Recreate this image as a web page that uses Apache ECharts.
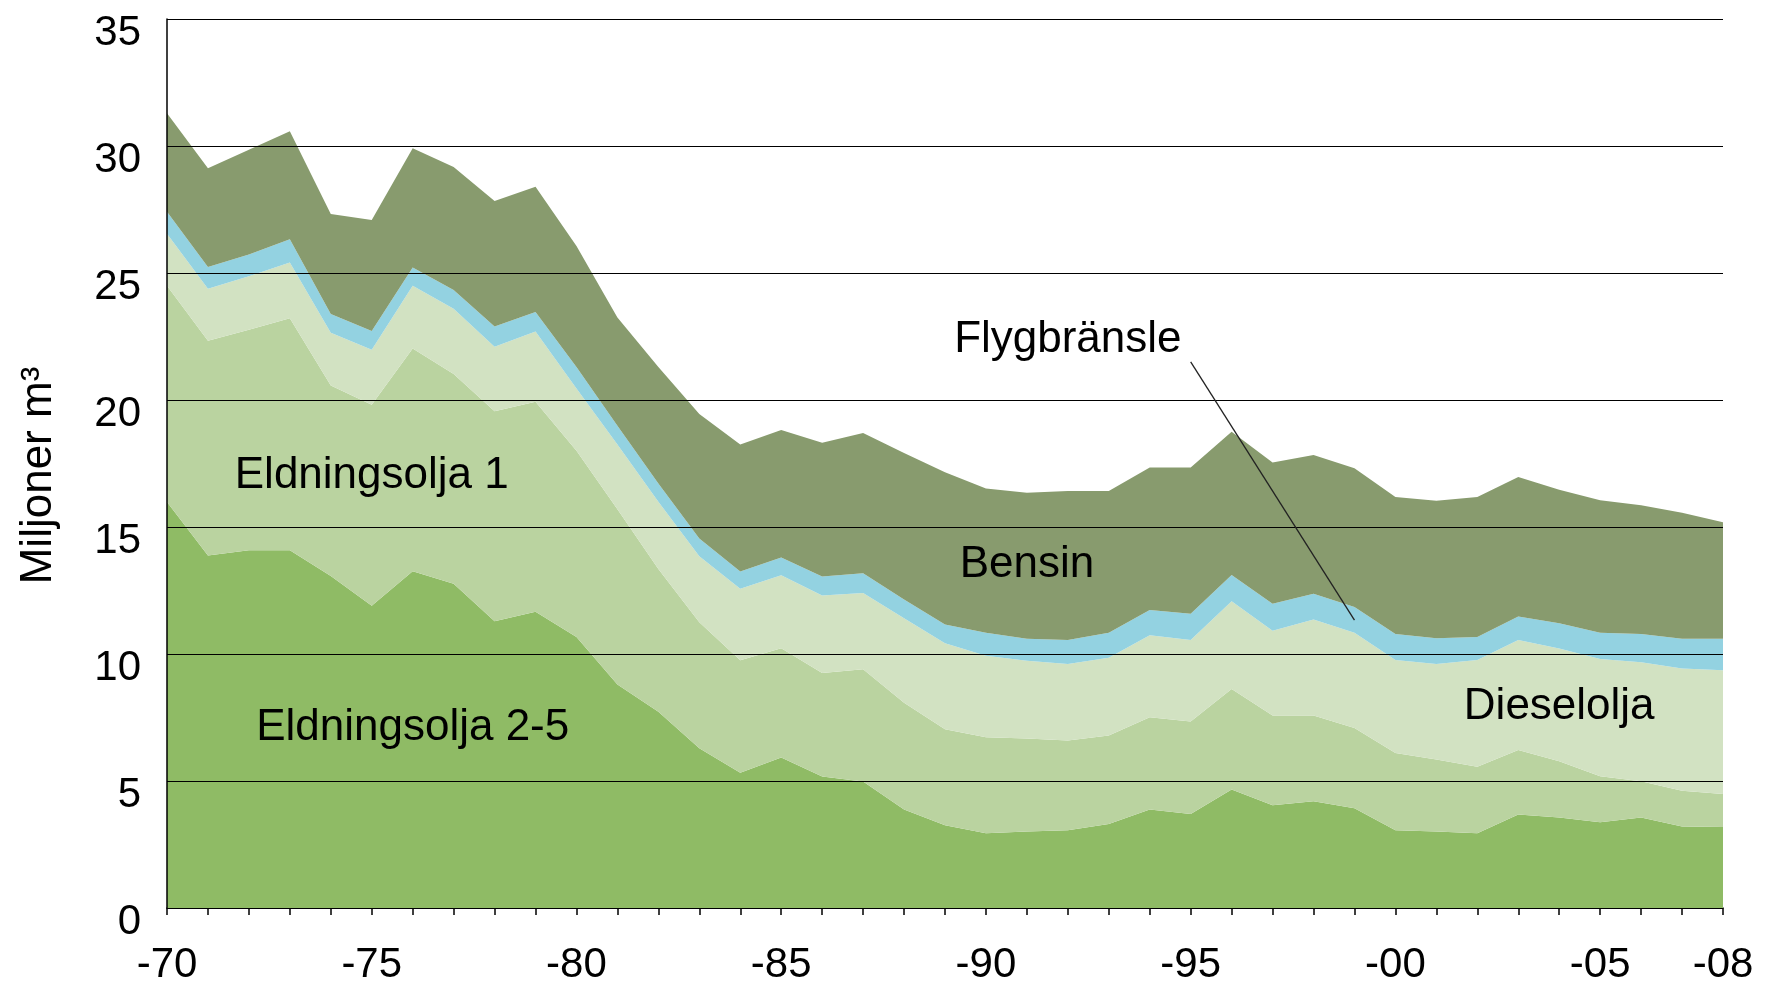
<!DOCTYPE html>
<html>
<head>
<meta charset="utf-8">
<script src="https://cdn.jsdelivr.net/npm/echarts@6/dist/echarts.min.js"></script>
<style>
html, body { margin: 0; padding: 0; background: #fff; }
#main { width: 1766px; height: 984px; }
</style>
</head>
<body>
<div id="main"></div>
<script>
// Miljoner m3 per år, 1970-2008
var years = [1970, 1971, 1972, 1973, 1974, 1975, 1976, 1977, 1978, 1979,
             1980, 1981, 1982, 1983, 1984, 1985, 1986, 1987, 1988, 1989,
             1990, 1991, 1992, 1993, 1994, 1995, 1996, 1997, 1998, 1999,
             2000, 2001, 2002, 2003, 2004, 2005, 2006, 2007, 2008];

var eldningsolja25 = [15.98, 13.88, 14.08, 14.08, 13.07, 11.90, 13.26, 12.77, 11.29, 11.66,
                      10.67, 8.80, 7.73, 6.29, 5.32, 5.93, 5.18, 4.98, 3.88, 3.26,
                      2.94, 3.01, 3.06, 3.31, 3.88, 3.70, 4.67, 4.05, 4.20, 3.93,
                      3.06, 3.01, 2.94, 3.68, 3.56, 3.38, 3.56, 3.21, 3.19];

var eldningsolja1 = [8.52, 8.45, 8.69, 9.14, 7.50, 7.91, 8.77, 8.25, 8.27, 8.27,
                     7.33, 6.90, 5.62, 4.96, 4.43, 4.30, 4.07, 4.42, 4.20, 3.78,
                     3.78, 3.66, 3.53, 3.48, 3.63, 3.64, 3.95, 3.53, 3.38, 3.16,
                     3.04, 2.84, 2.62, 2.54, 2.22, 1.81, 1.43, 1.41, 1.30];

var dieselolja = [2.05, 2.05, 2.10, 2.19, 2.08, 2.17, 2.47, 2.57, 2.54, 2.77,
                  2.45, 2.55, 2.64, 2.60, 2.82, 2.87, 3.05, 3.00, 3.33, 3.38,
                  3.21, 3.06, 3.02, 3.06, 3.23, 3.21, 3.46, 3.34, 3.78, 3.75,
                  3.66, 3.76, 4.20, 4.33, 4.44, 4.61, 4.69, 4.81, 4.87];

var flygbransle = [0.86, 0.86, 0.86, 0.92, 0.74, 0.74, 0.72, 0.74, 0.79, 0.76,
                   0.85, 0.74, 0.72, 0.70, 0.68, 0.70, 0.75, 0.78, 0.74, 0.74,
                   0.91, 0.87, 0.94, 0.99, 0.99, 1.03, 1.03, 1.06, 1.01, 1.01,
                   1.03, 1.01, 0.91, 0.93, 0.99, 1.04, 1.11, 1.17, 1.24];

var bensin = [3.88, 3.88, 4.12, 4.25, 3.93, 4.37, 4.69, 4.84, 4.94, 4.94,
              4.76, 4.26, 4.59, 4.90, 5.00, 5.02, 5.27, 5.52, 5.76, 6.00,
              5.68, 5.75, 5.87, 5.58, 5.61, 5.76, 5.64, 5.56, 5.46, 5.46,
              5.39, 5.41, 5.51, 5.49, 5.26, 5.21, 5.07, 4.96, 4.59];

var yTicks = [0, 5, 10, 15, 20, 25, 30, 35];

var FONT = "'Liberation Sans', Arial, Helvetica, sans-serif";

var dom = document.getElementById('main');
var myChart = echarts.init(dom);

function layer(name, values, color) {
    return {
        name: name,
        type: 'line',
        stack: 'total',
        data: values,
        symbol: 'none',
        lineStyle: { width: 0 },
        areaStyle: { color: color, opacity: 1 },
        silent: true
    };
}

var option = {
    animation: false,
    backgroundColor: '#fff',
    grid: { left: 167, right: 43, top: 19, bottom: 76, outerBoundsMode: 'none' },
    xAxis: {
        type: 'category',
        data: years,
        boundaryGap: false,
        axisLine: { lineStyle: { color: '#000', width: 1.5 } },
        axisTick: { interval: 0, length: 7, lineStyle: { color: '#000', width: 1.5 } },
        axisLabel: {
            interval: function (i, v) { v = +v; return (v - 1970) % 5 === 0 || v === 2008; },
            formatter: function (v) { return '-' + String(v).slice(2); },
            color: '#000', fontFamily: FONT, fontSize: 42, margin: 36
        },
        splitLine: { show: false }
    },
    yAxis: {
        type: 'value',
        min: yTicks[0],
        max: yTicks[yTicks.length - 1],
        interval: 5,
        z: 10,
        name: 'Miljoner m\u00b3',
        nameLocation: 'middle',
        nameGap: 106,
        nameTextStyle: { color: '#000', fontFamily: FONT, fontSize: 44, padding: [0, 24, 0, 0] },
        axisLine: { show: true, lineStyle: { color: '#000', width: 1.5 } },
        axisTick: { show: false },
        axisLabel: { color: '#000', fontFamily: FONT, fontSize: 42, margin: 26, verticalAlign: 'top', lineHeight: 28 },
        splitLine: { lineStyle: { color: '#000', width: 1 } }
    },
    series: [
        layer('Eldningsolja 2-5', eldningsolja25, '#8fbb65'),
        layer('Eldningsolja 1', eldningsolja1, '#bad3a0'),
        layer('Dieselolja', dieselolja, '#d2e2c2'),
        layer('Flygbränsle', flygbransle, '#93d2e1'),
        layer('Bensin', bensin, '#889b6e')
    ]
};

myChart.setOption(option, true);

// texts placed in data coordinates (category index, value)
var labels = [
    { text: 'Eldningsolja 1', at: [5.45, 17.0] },
    { text: 'Eldningsolja 2-5', at: [5.78, 7.09] },
    { text: 'Bensin', at: [20.95, 13.5] },
    { text: 'Flygbränsle', at: [21.5, 22.36] },
    { text: 'Dieselolja', at: [33.75, 7.91] }
];
var leader = [[24.5, 21.5], [28.8, 11.33]];

function px(p) {
    return myChart.convertToPixel({ xAxisIndex: 0, yAxisIndex: 0 }, p);
}

var graphics = labels.map(function (l) {
    var p = px(l.at);
    return {
        type: 'text', x: p[0], y: p[1], z: 20,
        style: { text: l.text, fill: '#000', font: '44px ' + FONT, align: 'center', verticalAlign: 'middle' }
    };
});
var a = px(leader[0]), b = px(leader[1]);
graphics.push({
    type: 'line', z: 20,
    shape: { x1: a[0], y1: a[1], x2: b[0], y2: b[1] },
    style: { stroke: '#222', lineWidth: 1.3 }
});

myChart.setOption({ graphic: graphics });
</script>
</body>
</html>
